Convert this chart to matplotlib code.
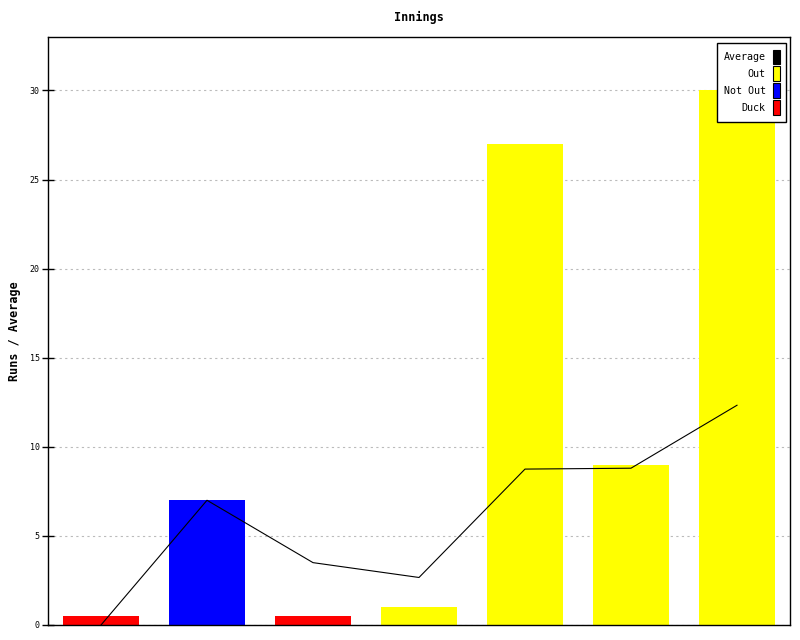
import matplotlib
matplotlib.use("Agg")
import matplotlib.pyplot as plt
from matplotlib.patches import Patch

innings = [1, 2, 3, 4, 5, 6, 7]
runs = [0.5, 7, 0.5, 1, 27, 9, 30]
kinds = ["Duck", "Not Out", "Duck", "Out", "Out", "Out", "Out"]
average = [0, 7, 3.5, 2.667, 8.75, 8.8, 12.333]
yticks = [0, 5, 10, 15, 20, 25, 30]
colors = {"Average": "#000000", "Out": "#ffff00", "Not Out": "#0000ff", "Duck": "#ff0000"}
legend_order = ["Average", "Out", "Not Out", "Duck"]

plt.rcParams['font.family'] = ['DejaVu Sans Mono']
fig = plt.figure(figsize=(8, 6.4), dpi=100)
ax = fig.add_axes([48/800, 15/640, 742/800, 588/640])

x = list(range(len(innings)))
ax.bar(x, runs, width=76/106, color=[colors[k] for k in kinds], zorder=2)
ax.plot(x, average, color="black", linewidth=0.8, zorder=3)

ax.set_xlim(-0.5, len(innings) - 0.5)
ax.set_ylim(0, 33)
ax.set_xticks([])
ax.set_yticks(yticks)
ax.set_yticklabels([str(t) for t in yticks], fontsize=6)
ax.tick_params(axis='y', direction='inout', length=8, width=1, pad=2)
ax.yaxis.grid(True, linestyle=(0, (2, 3)), color="#bbbbbb", linewidth=0.8, zorder=0)
ax.set_axisbelow(True)
for s in ax.spines.values():
    s.set_linewidth(1)

fig.text(419/800, 1 - 17/640, "Innings", fontsize=8.5, fontweight='bold', ha='center', va='center')
ax.set_ylabel("Runs / Average", fontsize=8.5, fontweight='bold')
ax.yaxis.set_label_coords((21 - 48) / 742, 0.5)

handles = [Patch(facecolor=colors[k], edgecolor="black", linewidth=0.8) for k in legend_order]
leg = ax.legend(handles, legend_order, loc="upper right",
                bbox_to_anchor=(786/800, 1 - 43/640), bbox_transform=fig.transFigure,
                markerfirst=False, fontsize=7.2, handlelength=0.7, handleheight=1.93,
                handletextpad=0.7, labelspacing=0.2, borderpad=0.65, borderaxespad=0,
                fancybox=False, framealpha=1, edgecolor="black")
leg.get_frame().set_linewidth(1)

fig.savefig("out.png", dpi=100)
